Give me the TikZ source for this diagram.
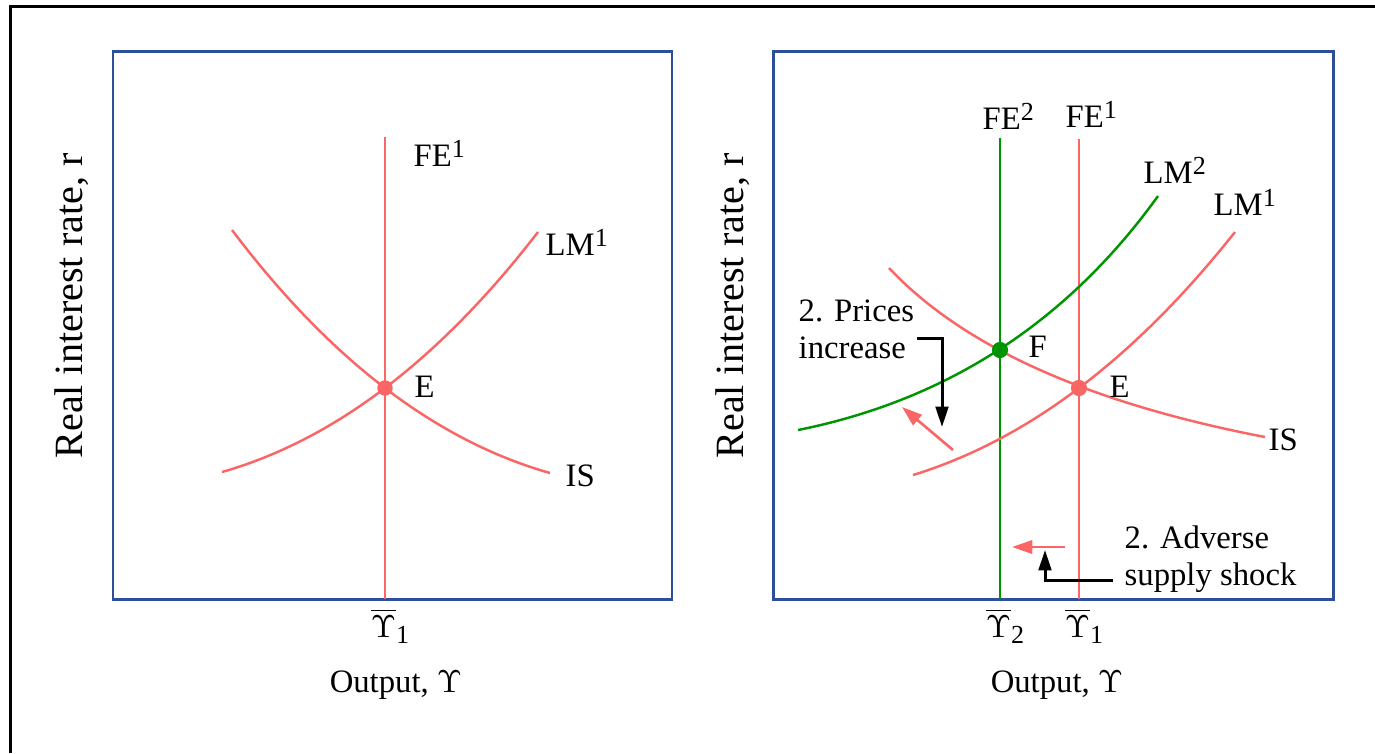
\documentclass[tikz,border=0pt]{standalone}
\usepackage{fontspec}
\setmainfont{Liberation Serif}
\usetikzlibrary{arrows.meta}
\definecolor{curvered}{RGB}{250,102,102}
\definecolor{curvegreen}{RGB}{0,148,0}
\definecolor{panelblue}{RGB}{45,78,152}
\newcommand{\upidx}[1]{\raisebox{2.3pt}{\fontsize{7.4}{8}\selectfont#1}}
\newcommand{\lowidx}[1]{\raisebox{-1.7pt}{\fontsize{7.4}{8}\selectfont#1}}
\tikzset{panel/.style={draw=panelblue,line width=0.85pt},
 curve/.style={line width=0.7pt},
 shift arrow/.style={-{Triangle[length=5.8pt,width=3.8pt]},curvered,line width=0.75pt},
 note arrow/.style={-{Triangle[length=5.8pt,width=3.6pt]},line width=0.85pt},
 every node/.style={font=\fontsize{9.3}{10.5}\selectfont,inner sep=0pt},
 axislabel/.style={font=\fontsize{11.4}{13}\selectfont,rotate=90,anchor=base},
 note/.style={align=left,anchor=base west}}
\begin{document}
\begin{tikzpicture}[x=0.01cm,y=-0.01cm]
\useasboundingbox (0,0) rectangle (1375,753);
\draw[line width=0.8pt] (10.7,753)--(10.7,6.2)--(1375,6.2);
% left panel
\draw[panel] (113,51) rectangle (672,599);
\coordinate (E) at (385,388);
\draw[curve,curvered] (385,137)--(385,599);
\draw[curve,curvered] (222,472) .. controls (334,440) and (439.3,360) .. (538,232);
\draw[curve,curvered] (232,230) .. controls (330,359.7) and (436,440.7) .. (550,473);
\fill[curvered] (E) circle (2.2pt);
\node[anchor=base west] (feL) at (413,166) {FE\upidx{1}};
\node[anchor=base west] (lmL) at (545,255) {LM\upidx{1}};
\node[anchor=base west] (isL) at (565,486) {IS};
\node[anchor=base west] (eL) at (414,397) {E};
\node[anchor=base] (yL) at (390,637) {$\overline{\Upsilon}$\lowidx{1}};
\node[anchor=base] (outL) at (396,692) {Output, $\Upsilon$};
\node[axislabel] (rL) at (82,306) {Real interest rate, r};
% right panel
\draw[panel] (773,51) rectangle (1333,599);
\coordinate (F) at (1000,350);
\coordinate (E2) at (1079,388);
\draw[curve,curvegreen] (1000,138)--(1000,599);
\draw[curve,curvered] (1079,139)--(1079,599);
\draw[curve,curvegreen] (798,430) .. controls (947.3,400) and (1067.3,322) .. (1158,196);
\draw[curve,curvered] (913,475) .. controls (1027,440) and (1134.3,359) .. (1235,232);
\draw[curve,curvered] (889,268) .. controls (963,346.7) and (1088.3,403) .. (1265,437);
\fill[curvegreen] (F) circle (2.3pt);
\fill[curvered] (E2) circle (2.3pt);
\node[anchor=base west] (fe2R) at (982,129) {FE\upidx{2}};
\node[anchor=base west] (fe1R) at (1065,127) {FE\upidx{1}};
\node[anchor=base west] (lm2R) at (1143,183) {LM\upidx{2}};
\node[anchor=base west] (lm1R) at (1213,215) {LM\upidx{1}};
\node[anchor=base west] (isR) at (1268,450) {IS};
\node[anchor=base west] (fR) at (1028,357) {F};
\node[anchor=base west] (eR) at (1109,397) {E};
\node[anchor=base] (y2R) at (1005,637) {$\overline{\Upsilon}$\lowidx{2}};
\node[anchor=base] (y1R) at (1084,637) {$\overline{\Upsilon}$\lowidx{1}};
\node[anchor=base] (outR) at (1057,692) {Output, $\Upsilon$};
\node[axislabel] (rR) at (743,306) {Real interest rate, r};
% annotations
\node[note] (prices) at (798,358) {2. Prices\\increase};
\node[note] (supply) at (1124,585) {2. Adverse\\supply shock};
\coordinate (pricesFrom) at (917,338);
\coordinate (pricesTo) at (942,427);
\draw[note arrow] (pricesFrom) -| (pricesTo);
\coordinate (supplyFrom) at (1113,580);
\coordinate (supplyTo) at (1045,550);
\draw[note arrow] (supplyFrom) -| (supplyTo);
\coordinate (lmFrom) at (953,450);
\coordinate (lmTo) at (902,407);
\draw[shift arrow] (lmFrom)--(lmTo);
\coordinate (feFrom) at (1065,547);
\coordinate (feTo) at (1012,547);
\draw[shift arrow] (feFrom)--(feTo);
\end{tikzpicture}
\end{document}
